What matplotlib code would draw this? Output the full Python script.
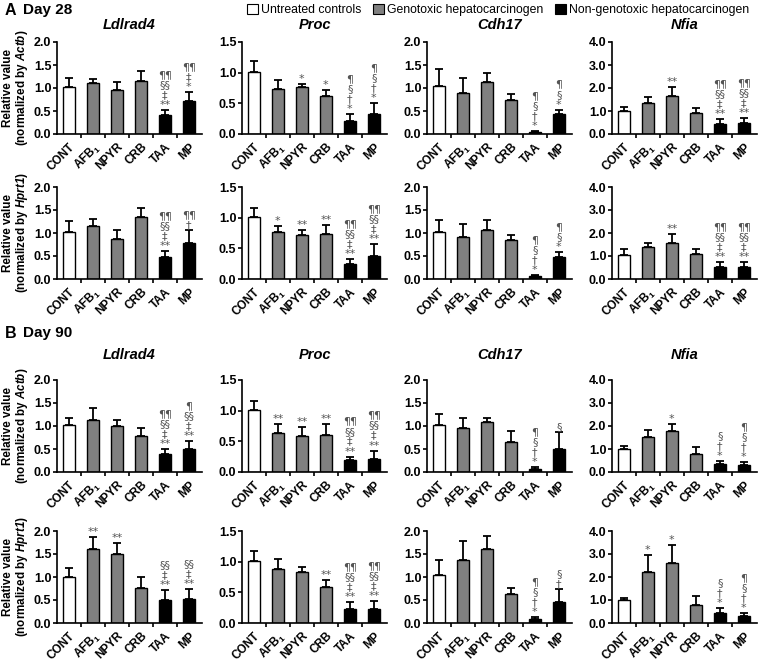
import numpy as np
import matplotlib
matplotlib.use("Agg")
import matplotlib.pyplot as plt
from matplotlib.patches import Patch

plt.rcParams["font.family"] = ["Liberation Sans", "DejaVu Sans"]
plt.rcParams["mathtext.fontset"] = "custom"
plt.rcParams["mathtext.rm"] = "Liberation Sans:bold"
plt.rcParams["mathtext.bf"] = "Liberation Sans:bold"
plt.rcParams["mathtext.it"] = "Liberation Sans:italic"
plt.rcParams["mathtext.bfit"] = "Liberation Sans:italic:bold"

groups = ["CONT", r"AFB$_\mathbf{1}$", "NPYR", "CRB", "TAA", "MP"]
genes = ["Ldlrad4", "Proc", "Cdh17", "Nfia"]
ymax = [2.0, 1.5, 2.0, 4.0]
ystep = [0.5, 0.5, 0.5, 1.0]

# Day 28, normalized by Actb
d28_actb_mean = [[1.02, 1.11, 0.96, 1.15, 0.42, 0.71],
                 [1.01, 0.74, 0.76, 0.62, 0.22, 0.33],
                 [1.05, 0.89, 1.13, 0.73, 0.04, 0.43],
                 [1.01, 1.34, 1.67, 0.92, 0.44, 0.47]]
d28_actb_sd = [[0.20, 0.09, 0.17, 0.21, 0.10, 0.20],
               [0.18, 0.14, 0.05, 0.09, 0.10, 0.17],
               [0.37, 0.32, 0.19, 0.15, 0.03, 0.10],
               [0.17, 0.26, 0.37, 0.23, 0.20, 0.23]]
d28_actb_sig = [["", "", "", "", "¶¶\n§§\n‡\n**", "¶¶\n‡\n*"],
                ["", "", "*", "*", "¶\n§\n†\n*", "¶\n§\n†\n*"],
                ["", "", "", "", "¶\n§\n†\n*", "¶\n§\n*"],
                ["", "", "**", "", "¶¶\n§§\n‡\n**", "¶¶\n§§\n‡\n**"]]

# Day 28, normalized by Hprt1
d28_hprt_mean = [[1.02, 1.15, 0.88, 1.34, 0.48, 0.78],
                 [1.01, 0.77, 0.71, 0.74, 0.25, 0.37],
                 [1.03, 0.91, 1.07, 0.85, 0.06, 0.47],
                 [1.03, 1.39, 1.58, 1.09, 0.51, 0.51]]
d28_hprt_sd = [[0.25, 0.15, 0.19, 0.20, 0.13, 0.28],
               [0.14, 0.10, 0.09, 0.14, 0.08, 0.20],
               [0.25, 0.28, 0.22, 0.10, 0.03, 0.12],
               [0.26, 0.17, 0.38, 0.23, 0.22, 0.22]]
d28_hprt_sig = [["", "", "", "", "¶¶\n§§\n‡\n**", "¶¶\n†"],
                ["", "*", "**", "**", "¶¶\n§§\n‡\n**", "¶¶\n§§\n‡\n**"],
                ["", "", "", "", "¶\n§\n†\n*", "¶\n§\n*"],
                ["", "", "**", "", "¶¶\n§§\n‡\n**", "¶¶\n§§\n‡\n**"]]

# Day 90, normalized by Actb
d90_actb_mean = [[1.02, 1.13, 1.00, 0.78, 0.40, 0.49],
                 [1.01, 0.63, 0.58, 0.61, 0.19, 0.22],
                 [1.03, 0.96, 1.09, 0.65, 0.06, 0.49],
                 [1.01, 1.51, 1.77, 0.77, 0.33, 0.29]]
d90_actb_sd = [[0.16, 0.26, 0.12, 0.18, 0.09, 0.18],
               [0.15, 0.15, 0.16, 0.18, 0.06, 0.13],
               [0.24, 0.22, 0.08, 0.24, 0.05, 0.38],
               [0.12, 0.30, 0.33, 0.31, 0.15, 0.13]]
d90_actb_sig = [["", "", "", "", "¶¶\n§§\n‡\n**", "¶\n§§\n‡\n**"],
                ["", "**", "**", "**", "¶¶\n§§\n‡\n**", "¶¶\n§§\n‡\n**"],
                ["", "", "", "", "¶\n§\n†\n*", "§"],
                ["", "", "*", "", "§\n†\n*", "¶\n§\n†\n*"]]

# Day 90, normalized by Hprt1
d90_hprt_mean = [[1.01, 1.60, 1.49, 0.77, 0.51, 0.52],
                 [1.01, 0.88, 0.83, 0.58, 0.23, 0.23],
                 [1.04, 1.37, 1.61, 0.63, 0.08, 0.45],
                 [1.01, 2.20, 2.63, 0.79, 0.43, 0.29]]
d90_hprt_sd = [[0.19, 0.27, 0.25, 0.22, 0.20, 0.22],
               [0.16, 0.16, 0.09, 0.12, 0.11, 0.13],
               [0.32, 0.42, 0.29, 0.14, 0.05, 0.28],
               [0.09, 0.74, 0.75, 0.40, 0.23, 0.13]]
d90_hprt_sig = [["", "**", "**", "", "§§\n‡\n**", "§§\n‡\n**"],
                ["", "", "", "**", "¶¶\n§§\n‡\n**", "¶¶\n§§\n‡\n**"],
                ["", "", "", "", "¶\n§\n†\n*", "§\n†"],
                ["", "*", "*", "", "§\n†\n*", "¶\n§\n†\n*"]]

rows = [(d28_actb_mean, d28_actb_sd, d28_actb_sig, "Actb"),
        (d28_hprt_mean, d28_hprt_sd, d28_hprt_sig, "Hprt1"),
        (d90_actb_mean, d90_actb_sd, d90_actb_sig, "Actb"),
        (d90_hprt_mean, d90_hprt_sd, d90_hprt_sig, "Hprt1")]

colors = ["white", "#808080", "#808080", "#808080", "black", "black"]
sig_color = "#555555"

W, H = 760, 662
fig = plt.figure(figsize=(W / 100, H / 100), dpi=100)

col_left = [57, 242, 427, 612]
row_top = [42, 187, 380, 531]
ax_w, ax_h = 145, 92

x = np.arange(len(groups))
for r, (means, sds, sigs, ref) in enumerate(rows):
    for c in range(4):
        ax = fig.add_axes([col_left[c] / W, 1 - (row_top[r] + ax_h) / H,
                           ax_w / W, ax_h / H])
        m = np.array(means[c])
        s = np.array(sds[c])
        ax.bar(x, m, width=0.5, color=colors, edgecolor="black", linewidth=1.0,
               yerr=[np.zeros_like(s), s], capsize=3,
               error_kw=dict(elinewidth=1.3, capthick=1.3, ecolor="black"))
        for i in range(len(groups)):
            if sigs[c][i]:
                ax.annotate(sigs[c][i], (x[i], m[i] + s[i]), xytext=(0, 0),
                            textcoords="offset points", ha="center", va="bottom",
                            fontsize=8, color=sig_color, linespacing=1.0,
                            family=["DejaVu Sans"], annotation_clip=False)
        ax.set_xlim(-0.5, 5.55)
        ax.set_ylim(0, ymax[c])
        ax.set_yticks(np.arange(0, ymax[c] + 0.01, ystep[c]))
        ax.set_yticklabels([f"{v:.1f}" for v in ax.get_yticks()],
                           fontsize=9, fontweight="bold")
        ax.set_xticks(x)
        ax.set_xticklabels(groups, rotation=45, ha="right", rotation_mode="anchor",
                           fontsize=8.5, fontweight="bold")
        ax.set_xticks(np.arange(0.5, 5.0, 1.0), minor=True)
        ax.tick_params(axis="x", which="major", length=0, pad=5)
        ax.tick_params(axis="x", which="minor", length=3, width=1.2)
        ax.tick_params(axis="y", length=3, width=1.2, pad=1)
        for sp in ["top", "right"]:
            ax.spines[sp].set_visible(False)
        for sp in ["left", "bottom"]:
            ax.spines[sp].set_linewidth(1.2)
        if c == 0:
            ax.set_ylabel("Relative value\n(normalized by $\\mathbfit{" + ref + "}$)",
                          fontsize=8.4, fontweight="bold", linespacing=1.0)
            ax.yaxis.set_label_coords(-0.185, 0.5)
        if r in (0, 2):
            ty = row_top[r] - (17 if r == 0 else 25)
            fig.text((col_left[c] + ax_w / 2) / W, 1 - ty / H, genes[c],
                     ha="center", va="center", fontsize=10.5,
                     fontweight="bold", fontstyle="italic")

fig.text(5 / W, 1 - 3 / H, "A", fontsize=11.5, fontweight="bold", va="top")
fig.text(23 / W, 1 - 3 / H, "Day 28", fontsize=11, fontweight="bold", va="top")
fig.text(5 / W, 1 - 326 / H, "B", fontsize=11.5, fontweight="bold", va="top")
fig.text(23 / W, 1 - 326 / H, "Day 90", fontsize=11, fontweight="bold", va="top")

handles = [Patch(facecolor="white", edgecolor="black", linewidth=0.8),
           Patch(facecolor="#808080", edgecolor="black", linewidth=0.8),
           Patch(facecolor="black", edgecolor="black", linewidth=0.8)]
fig.legend(handles, ["Untreated controls", "Genotoxic hepatocarcinogen",
                     "Non-genotoxic hepatocarcinogen"],
           loc="upper right", bbox_to_anchor=(0.995, 1.005), ncol=3, fontsize=8.8,
           frameon=False, handlelength=0.9, handleheight=0.9, handletextpad=0.2,
           columnspacing=1.0, borderaxespad=0.2)

fig.savefig("out.png", dpi=100)
